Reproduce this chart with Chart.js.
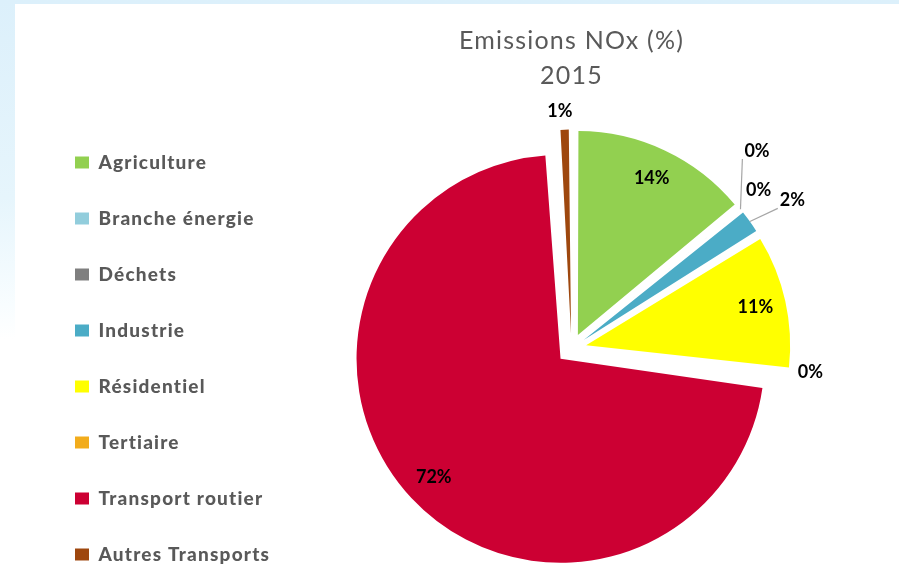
<!DOCTYPE html>
<html lang="fr">
<head>
<meta charset="utf-8">
<title>Emissions NOx 2015</title>
<script src="https://cdn.jsdelivr.net/npm/chart.js@4.4.1/dist/chart.umd.min.js"></script>
<style>
  html, body { margin: 0; padding: 0; }
  body {
    width: 899px; height: 565px; overflow: hidden;
    background: linear-gradient(180deg, #dcf0fb 0%, #e6f5fc 35%, #f8fdff 54%, #ffffff 60%);
  }
  .panel { position: absolute; left: 15px; top: 4px; right: 0; bottom: 0; background: #fff; }
  .wrap { position: absolute; left: 0; top: 0; width: 899px; height: 565px; }
</style>
</head>
<body>
<div class="panel"></div>
<div class="wrap"><canvas id="noxChart"></canvas></div>
<script>
  const categories = ['Agriculture', 'Branche énergie', 'Déchets', 'Industrie',
    'Résidentiel', 'Tertiaire', 'Transport routier', 'Autres Transports'];
  const shares2015 = [14.0, 0.05, 0.05, 2.1, 10.6, 0.3, 71.9, 1.0];
  const sliceColors = ['#92d050', '#92cddc', '#7f7f7f', '#4bacc6',
    '#ffff00', '#f2ac1c', '#cc0033', '#9e470e'];
  const titleLines = ['Emissions NOx (%)', '2015'];

  // where each percent label sits: null = inside the slice,
  // otherwise px past the rim, a small turn in degrees, and a leader line or not
  const labelSpots = [
    null,
    { dist: 67, turn: -7.3, line: true },
    { dist: 41, turn: -0.9 },
    { dist: 62, turn: 1.6, line: true },
    null,
    { dist: 36, turn: -1.4 },
    null,
    { dist: 34, turn: -1.0 }
  ];

  const pieRadius = 204;
  const explode = 60; // Chart.js shifts an arc by offset / 4

  Chart.defaults.font.family = 'Lato';

  // the original font runs wider than Lato, a bit of tracking makes up for it
  const textSpacing = {
    id: 'textSpacing',
    beforeLayout(chart) { chart.ctx.letterSpacing = '1.2px'; },
    beforeDraw(chart) { chart.ctx.letterSpacing = '1.2px'; }
  };

  // offset also grows the arc radius a bit, undo that so every slice keeps the same size
  const evenRadius = {
    id: 'evenRadius',
    afterDatasetsUpdate(chart) {
      chart.getDatasetMeta(0).data.forEach(arc => {
        const push = explode / 4;
        const circ = arc.endAngle - arc.startAngle;
        arc.outerRadius = pieRadius - push * (1 - Math.sin(Math.min(Math.PI, circ)));
      });
    }
  };

  const pieLabels = {
    id: 'pieLabels',
    afterDatasetsDraw(chart) {
      const ctx = chart.ctx;
      ctx.save();
      ctx.letterSpacing = '0px';
      ctx.font = 'bold 18px Lato';
      ctx.fillStyle = '#000';
      ctx.textAlign = 'center';
      ctx.textBaseline = 'middle';
      chart.getDatasetMeta(0).data.forEach((arc, i) => {
        const mid = (arc.startAngle + arc.endAngle) / 2;
        const push = explode / 4;
        const ax = arc.x + Math.cos(mid) * push;
        const ay = arc.y + Math.sin(mid) * push;
        const text = Math.round(shares2015[i]) + '%';
        const spot = labelSpots[i];
        let lx, ly;
        if (!spot) {
          lx = ax + Math.cos(mid) * pieRadius * 0.85;
          ly = ay + Math.sin(mid) * pieRadius * 0.85;
        } else {
          const a = mid + spot.turn * Math.PI / 180;
          lx = arc.x + Math.cos(a) * (pieRadius + spot.dist);
          ly = arc.y + Math.sin(a) * (pieRadius + spot.dist);
          if (spot.line) {
            const rx = ax + Math.cos(mid) * pieRadius;
            const ry = ay + Math.sin(mid) * pieRadius;
            const hw = ctx.measureText(text).width / 2 + 2;
            const ex = Math.min(Math.max(rx, lx - hw), lx + hw);
            const ey = Math.min(Math.max(ry, ly - 8), ly + 8);
            ctx.strokeStyle = '#a6a6a6';
            ctx.lineWidth = 1.2;
            ctx.beginPath();
            ctx.moveTo(rx, ry);
            ctx.lineTo(ex, ey);
            ctx.stroke();
          }
        }
        ctx.fillText(text, lx, ly);
      });
      ctx.restore();
    }
  };

  new Chart(document.getElementById('noxChart'), {
    type: 'pie',
    data: {
      labels: categories,
      datasets: [{
        data: shares2015,
        backgroundColor: sliceColors,
        borderWidth: 0,
        offset: explode,
        radius: pieRadius
      }]
    },
    options: {
      responsive: true,
      maintainAspectRatio: false,
      animation: false,
      layout: { padding: { left: 38, top: 0, right: 30, bottom: -36 } },
      plugins: {
        title: {
          display: true,
          text: titleLines,
          fullSize: false,
          color: '#595959',
          font: { size: 25, weight: 'normal', lineHeight: 1.42 },
          padding: { top: 22.75, bottom: 38.45 }
        },
        legend: {
          position: 'left',
          align: 'end',
          maxWidth: 236,
          labels: {
            boxWidth: 14,
            boxHeight: 12,
            padding: 37,
            color: '#595959',
            font: { size: 19, weight: '900' }
          }
        },
        tooltip: { enabled: false }
      }
    },
    plugins: [textSpacing, evenRadius, pieLabels]
  });
</script>
</body>
</html>
